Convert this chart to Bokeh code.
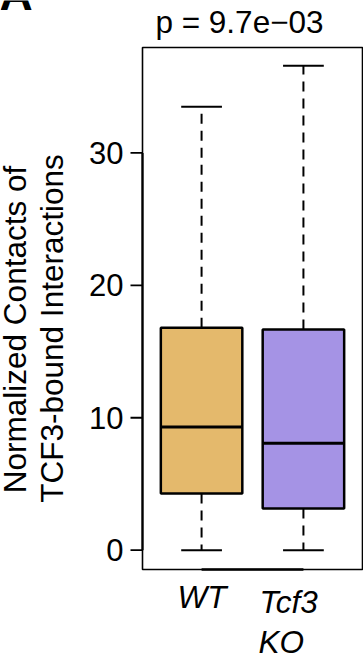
import math

from bokeh.plotting import figure
from bokeh.models import Range1d
from bokeh.core.properties import value
from bokeh.embed import file_html
from bokeh.resources import INLINE

# Box-plot summary statistics per genotype
group_pos = [1, 2]
lower_whisker = [0.0, 0.0]
q1 = [4.28, 3.15]
median = [9.31, 8.08]
q3 = [16.79, 16.67]
upper_whisker = [33.48, 36.58]
box_colors = ["#E4B96C", "#A593E5"]

y_ticks = [0, 10, 20, 30]
y_tick_labels = ["0", "10", "20", "30"]
p_value_text = "p = 9.7e\u221203"

FONT = "Liberation Sans"
W, H = 363, 662

# plotting box inside the canvas (pixels) and its data limits
BOX_L, BOX_R, BOX_T, BOX_B = 142, 362, 47, 569
x0, x1 = 0.42, 2.58
y0, y1 = -1.46, 37.96

sx_per = (BOX_R - BOX_L) / (x1 - x0)
sy_per = (BOX_B - BOX_T) / (y1 - y0)

# the frame covers the whole canvas so that text can sit around the box
p = figure(
    width=W, height=H,
    x_range=Range1d(x0 - BOX_L / sx_per, x1 + (W - BOX_R) / sx_per),
    y_range=Range1d(y0 - (H - BOX_B) / sy_per, y1 + BOX_T / sy_per),
    x_axis_type=None, y_axis_type=None,
    output_backend="svg", toolbar_location=None,
    min_border=0,
)
p.background_fill_color = "white"
p.border_fill_color = "white"
p.outline_line_color = None
p.grid.visible = False


def px_x(sx):
    return x0 + (sx - BOX_L) / sx_per


def px_y(sy):
    return y0 + (BOX_B - sy) / sy_per


def dx(px):
    return px / sx_per


# plot box
p.quad(left=[x0], right=[x1], bottom=[y0], top=[y1],
       fill_color=None, line_color="black", line_width=1.6)

# left axis: line, ticks and labels
p.segment(x0=[x0], y0=[y_ticks[0]], x1=[x0], y1=[y_ticks[-1]],
          line_color="black", line_width=2.2)
p.segment(x0=[x0] * len(y_ticks), y0=y_ticks,
          x1=[x0 - dx(12)] * len(y_ticks), y1=y_ticks,
          line_color="black", line_width=1.8)
p.text(x=[x0 - dx(19)] * len(y_ticks), y=y_ticks, text=y_tick_labels,
       text_font=value(FONT), text_font_size="31px", text_color="black",
       text_align="right", text_baseline="middle")

# bottom axis line between the groups
p.segment(x0=[group_pos[0]], y0=[y0], x1=[group_pos[-1]], y1=[y0],
          line_color="black", line_width=2.6)

half_box = 0.4
half_cap = 0.2

# dashed whiskers
p.segment(x0=group_pos, y0=q3, x1=group_pos, y1=upper_whisker,
          line_color="black", line_width=2, line_dash="10 7")
p.segment(x0=group_pos, y0=q1, x1=group_pos, y1=lower_whisker,
          line_color="black", line_width=2, line_dash="10 7")

# whisker caps
p.segment(x0=[g - half_cap for g in group_pos], y0=upper_whisker,
          x1=[g + half_cap for g in group_pos], y1=upper_whisker,
          line_color="black", line_width=2)
p.segment(x0=[g - half_cap for g in group_pos], y0=lower_whisker,
          x1=[g + half_cap for g in group_pos], y1=lower_whisker,
          line_color="black", line_width=2)

# boxes
p.vbar(x=group_pos, width=2 * half_box, bottom=q1, top=q3,
       fill_color=box_colors, line_color="black", line_width=2.5)

# medians
p.segment(x0=[g - half_box for g in group_pos], y0=median,
          x1=[g + half_box for g in group_pos], y1=median,
          line_color="black", line_width=3)


def add_text(text, sx, sy, size_px, align="center", style="normal", rotated=False,
             lift=0.43):
    # lift the anchor so the glyph baseline lands on (sx, sy)
    shift = lift * size_px
    if rotated:
        sx, angle = sx - shift, math.pi / 2
    else:
        sy, angle = sy - shift, 0.0
    p.text(x=[px_x(sx)], y=[px_y(sy)], text=[text],
           text_font=value(FONT), text_font_size=f"{size_px}px",
           text_font_style=style, text_color="black", text_align=align,
           text_baseline="alphabetic", angle=angle)


# panel letter
add_text("A", -1, 11, 46, align="left", style="bold", lift=0.37)

# test result
add_text(p_value_text, 239, 35, 31.5)

# y-axis title, two rotated lines
add_text("Normalized Contacts of", 28, 329, 31.5, rotated=True)
add_text("TCF3-bound Interactions", 65, 328, 31.5, rotated=True)

# group labels
add_text("WT", 201.5, 610, 31.5, style="italic")
add_text("Tcf3", 259, 615, 31.5, align="left", style="italic")
add_text("KO", 258, 655, 31.5, align="left", style="italic")

open("out.html", "w").write(file_html(p, INLINE))
